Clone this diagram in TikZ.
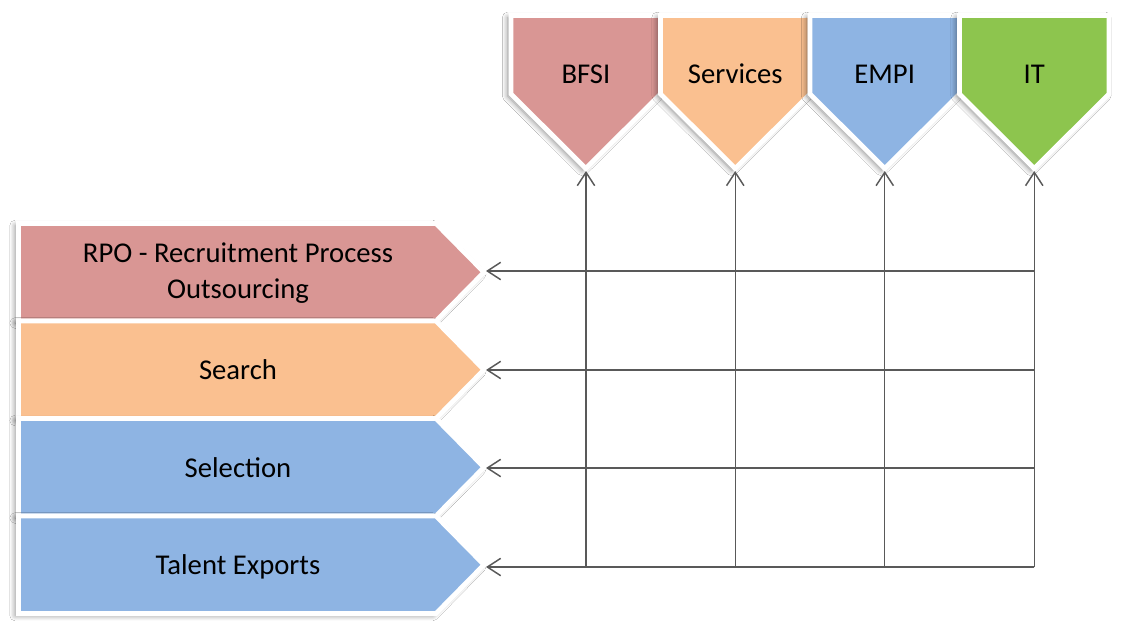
\documentclass[tikz,border=0pt]{standalone}
\usepackage{fontspec}
\setmainfont{Carlito}
\usetikzlibrary{arrows.meta,shadows.blur}
\definecolor{cpink}{HTML}{D99694}
\definecolor{corange}{HTML}{FAC090}
\definecolor{cblue}{HTML}{8EB4E3}
\definecolor{cgreen}{HTML}{8DC54E}
\definecolor{cline}{HTML}{595959}
\tikzset{
  shapebox/.style={draw=white, line width=3.6pt, line join=miter,
    blur shadow={shadow xshift=-2.5pt, shadow yshift=-1.5pt, shadow blur radius=4pt, shadow blur steps=8, shadow opacity=45}},
  lbl/.style={font=\fontsize{21.5}{26.5}\selectfont, text=black, align=center, inner sep=0pt},
  conn/.style={draw=cline, line width=1.1pt, -{Straight Barb[length=10pt,width=13pt,line width=1.1pt]}}
}
\begin{document}
\begin{tikzpicture}[x=0.75pt,y=-0.75pt]
\useasboundingbox (0,0) rectangle (1124,629);
\fill[white] (0,0) rectangle (1124,629);
% left chevrons (rows)
\path[shapebox, fill=cpink] (18.5,223.5) -- (436,223.5) -- (484,272.25) -- (436,321) -- (18.5,321) -- cycle;
\path[shapebox, fill=corange] (18.5,321) -- (436,321) -- (484,369.75) -- (436,418.5) -- (18.5,418.5) -- cycle;
\path[shapebox, fill=cblue] (18.5,418.5) -- (436,418.5) -- (484,467.25) -- (436,516) -- (18.5,516) -- cycle;
\path[shapebox, fill=cblue] (18.5,516) -- (436,516) -- (484,564.75) -- (436,613.5) -- (18.5,613.5) -- cycle;
% top pentagons (columns)
\path[shapebox, fill=cpink] (511,15.5) -- (660.5,15.5) -- (660.5,94) -- (585.75,168.5) -- (511,94) -- cycle;
\path[shapebox, fill=corange] (660.5,15.5) -- (810,15.5) -- (810,94) -- (735.25,168.5) -- (660.5,94) -- cycle;
\path[shapebox, fill=cblue] (810,15.5) -- (959.5,15.5) -- (959.5,94) -- (884.75,168.5) -- (810,94) -- cycle;
\path[shapebox, fill=cgreen] (959.5,15.5) -- (1109,15.5) -- (1109,94) -- (1034.25,168.5) -- (959.5,94) -- cycle;
% labels
\node[lbl] (rpo) at (238,273) {RPO - Recruitment Process\\Outsourcing};
\node[lbl] (search) at (238,370) {Search};
\node[lbl] (selection) at (238,468) {Selection};
\node[lbl] (talent) at (238,566.5) {Talent Exports};
\node[lbl] (bfsi) at (586,74) {BFSI};
\node[lbl] (services) at (735.25,74) {Services};
\node[lbl] (empi) at (884.75,74) {EMPI};
\node[lbl] (it) at (1034.25,74) {IT};
% tips
\coordinate (rpoT) at (486,271);
\coordinate (searchT) at (486,370);
\coordinate (selectionT) at (486,468);
\coordinate (talentT) at (486,567);
\coordinate (bfsiT) at (586,171);
\coordinate (servicesT) at (735.25,171);
\coordinate (empiT) at (884.75,171);
\coordinate (itT) at (1034.25,171);
% grid ends
\coordinate (rpoE) at (1034.25,271);
\coordinate (searchE) at (1034.25,370);
\coordinate (selectionE) at (1034.25,468);
\coordinate (talentE) at (1034.25,567);
\coordinate (bfsiB) at (586,567);
\coordinate (servicesB) at (735.25,567);
\coordinate (empiB) at (884.75,567);
\coordinate (itB) at (1034.25,567);
% connectors
\draw[conn] (rpoE) -- (rpoT);
\draw[conn] (searchE) -- (searchT);
\draw[conn] (selectionE) -- (selectionT);
\draw[conn] (talentE) -- (talentT);
\draw[conn] (bfsiB) -- (bfsiT);
\draw[conn] (servicesB) -- (servicesT);
\draw[conn] (empiB) -- (empiT);
\draw[conn] (itB) -- (itT);
\end{tikzpicture}
\end{document}
